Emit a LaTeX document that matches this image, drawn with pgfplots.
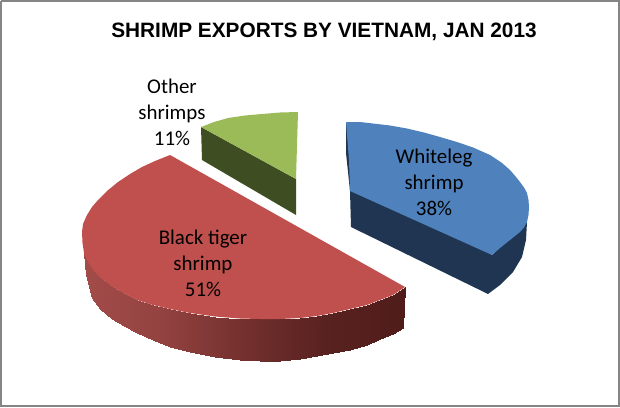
\documentclass[border=0pt]{standalone}
\usepackage{fontspec}
\setmainfont{Carlito}
\newfontfamily\titlefont{Liberation Sans}
\usepackage{pgfplots}
\pgfplotsset{compat=1.18}
\definecolor{BlueTop}{HTML}{4F81BD}
\definecolor{BlueSide}{HTML}{1F3552}
\definecolor{RedTop}{HTML}{C0504D}
\definecolor{GreenTop}{HTML}{9BBB59}
\definecolor{GreenSide}{HTML}{3F4E22}
\definecolor{Frame}{HTML}{858585}
\pgfplotstableread{
x y
84 253
84 253
88 262
86 275
93 270
92 298
102 279
100 309
113 287
112 319
125 294
124 326
137 300
137 333
153 305
153 340
170 309
170 347
190 313
190 352
215 316.5
215 357
240 318.5
240 360
260 319
260 361
280 319
280 361
300 318
300 358.5
317 316
317 356
333 313
333 353
350 309
350 349.5
367 305
367 344.5
380 300
380 339
393 295
393 333.5
405 287
403 328
}\redside
\begin{document}
\begin{tikzpicture}
\begin{axis}[
 scale only axis,width=465pt,height=305.25pt,
 xmin=0,xmax=620,ymin=0,ymax=407,y dir=reverse,
 hide axis,no markers,
 colormap={redside}{rgb255=(163,76,74) rgb255=(146,66,64) rgb255=(115,48,46) rgb255=(88,34,32) rgb255=(80,28,26)},
 point meta min=84,point meta max=405]
% frame
\addplot[draw=Frame,line width=1.5pt] coordinates {(1,1) (619,1) (619,406) (1,406) (1,1)};
% Whiteleg shrimp 38%
\addplot[fill=BlueSide,draw=none] coordinates {(346,122) (346,153) (350,191) (351,227) (488,294) (500,285) (513,272) (522,257) (526,240) (527,222) (492,255)};
\addplot[fill=BlueTop,draw=none] coordinates {(346,122) (360,122) (373,123.5) (390,125.5) (407,128.5) (424,132.5) (440,137) (457,142) (473,147.5) (490,155) (502,163) (510,170) (516,177) (520,182) (524,187.5) (527,193) (528.5,200) (529,207) (528.5,215) (527,222) (524,227.5) (520,232) (515,236) (510,240) (505,244) (500,248) (492,255) (350,191) (349,160)};
% Other shrimps 11%
\addplot[fill=GreenSide,draw=none] coordinates {(201,127) (202,160) (296,215) (296,179)};
\addplot[fill=GreenTop,draw=none] coordinates {(201,127) (214,122) (228,118) (245,115.5) (262,114) (280,112.5) (298,112) (296,179)};
% Black tiger shrimp 51%
\addplot[surf,shader=interp,mesh/cols=2,point meta=x] table[x=x,y=y] {\redside};
\addplot[fill=RedTop,draw=none] coordinates {(170,155) (155,161) (142,167) (130,174) (118,182) (107,191) (98,200) (92,207) (87,215) (83,224) (82,232) (82.5,243) (84,253) (88,262) (93,270) (102,279) (113,287) (125,294) (137,300) (153,305) (170,309) (190,313) (215,316.5) (240,318.5) (260,319) (280,319) (300,318) (317,316) (333,313) (350,309) (367,305) (380,300) (393,295) (405,287)};
\node[font=\titlefont\bfseries\fontsize{15.6}{18}\selectfont] at (axis cs:324,32) {SHRIMP EXPORTS BY VIETNAM, JAN 2013};
\node[align=center,font=\fontsize{15.7}{19.5}\selectfont] at (axis cs:434,182) {Whiteleg\\shrimp\\38\%};
\node[align=center,font=\fontsize{15.7}{19.5}\selectfont] at (axis cs:203,263) {Black tiger\\shrimp\\51\%};
\node[align=center,font=\fontsize{15.7}{19.5}\selectfont] at (axis cs:172,112) {Other\\shrimps\\11\%};
\end{axis}
\end{tikzpicture}
\end{document}
